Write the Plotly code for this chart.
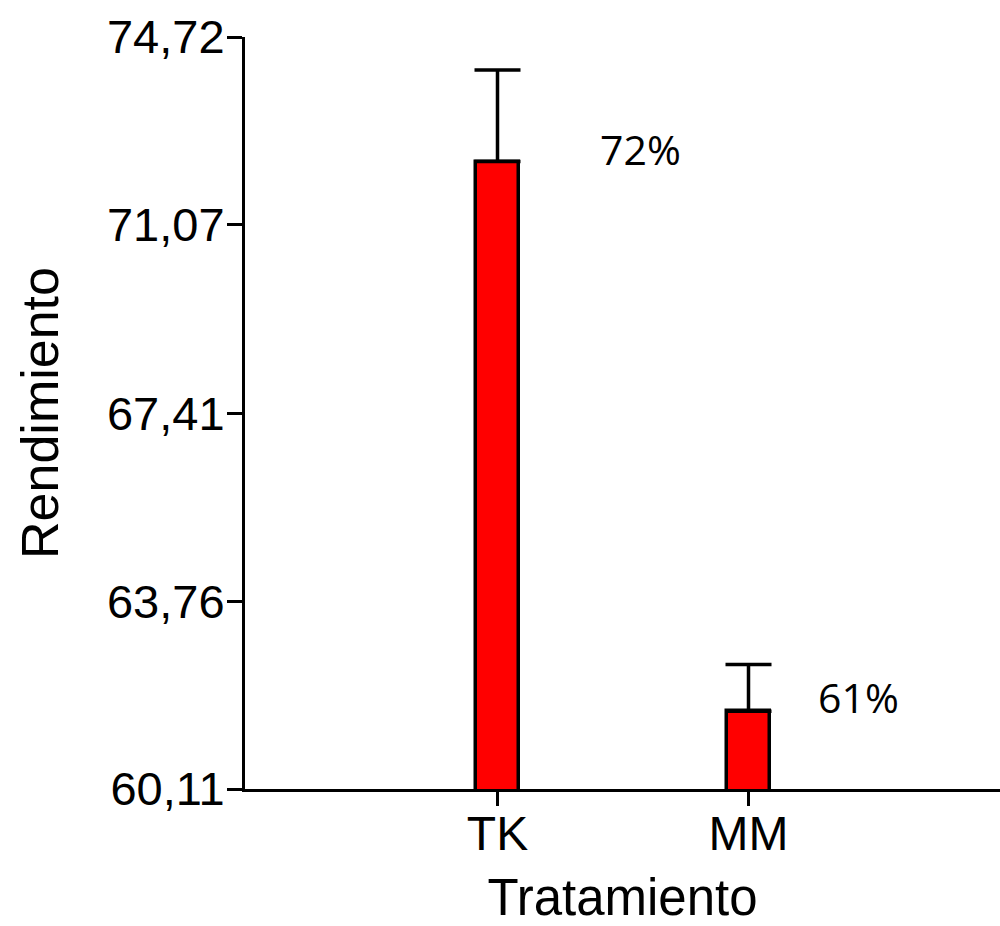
import plotly.graph_objects as go

# Treatment means and upper standard errors
tratamientos = ["TK", "MM"]
rendimiento = [72.30, 61.62]
error_sup = [1.78, 0.91]

# Y-axis tick positions and their comma-decimal labels
y_ticks = [60.11, 63.76, 67.41, 71.07, 74.72]
y_tick_text = ["60,11", "63,76", "67,41", "71,07", "74,72"]

# Label anchor offsets (category units, data units)
label_dx = [0.57, 0.44]
label_y = [72.55, 61.90]

fig = go.Figure()
fig.add_trace(go.Bar(
    x=list(range(len(tratamientos))),
    y=rendimiento,
    width=0.172,
    marker=dict(color="#ff0000", line=dict(color="black", width=3.5)),
    error_y=dict(type="data", symmetric=False, array=error_sup,
                 arrayminus=[0] * len(error_sup),
                 color="black", thickness=3.5, width=23),
    showlegend=False,
    hoverinfo="skip",
))

for i, v in enumerate(rendimiento):
    fig.add_annotation(
        x=i + label_dx[i], y=label_y[i],
        text=f"{int(v)}%", showarrow=False,
        font=dict(family="Open Sans", size=41, color="black"),
        xanchor="center", yanchor="middle",
    )

fig.update_layout(
    width=1000, height=926,
    margin=dict(l=245, r=0, t=37, b=137),
    paper_bgcolor="white", plot_bgcolor="white",
    bargap=0,
    xaxis=dict(
        range=[-1.006, 2.002],
        tickmode="array",
        tickvals=list(range(len(tratamientos))),
        ticktext=tratamientos,
        showline=True, linecolor="black", linewidth=3,
        ticks="outside", ticklen=14, tickwidth=3, tickcolor="black",
        showgrid=False, zeroline=False,
        ticklabelstandoff=-14,
        tickfont=dict(family="Liberation Sans, Arial", size=48, color="black"),
        title=dict(text="Tratamiento",
                   font=dict(family="Liberation Sans, Arial", size=51, color="black"),
                   standoff=24),
    ),
    yaxis=dict(
        range=[60.11, 74.72],
        tickmode="array",
        tickvals=y_ticks,
        ticktext=y_tick_text,
        showline=True, linecolor="black", linewidth=3,
        ticks="outside", ticklen=15, tickwidth=3, tickcolor="black",
        showgrid=False, zeroline=False,
        ticklabelstandoff=-7,
        tickfont=dict(family="Liberation Sans, Arial", size=47, color="black"),
        title=dict(text="Rendimiento",
                   font=dict(family="Liberation Sans, Arial", size=52, color="black"),
                   standoff=32),
    ),
)

fig.write_html("out.html")
